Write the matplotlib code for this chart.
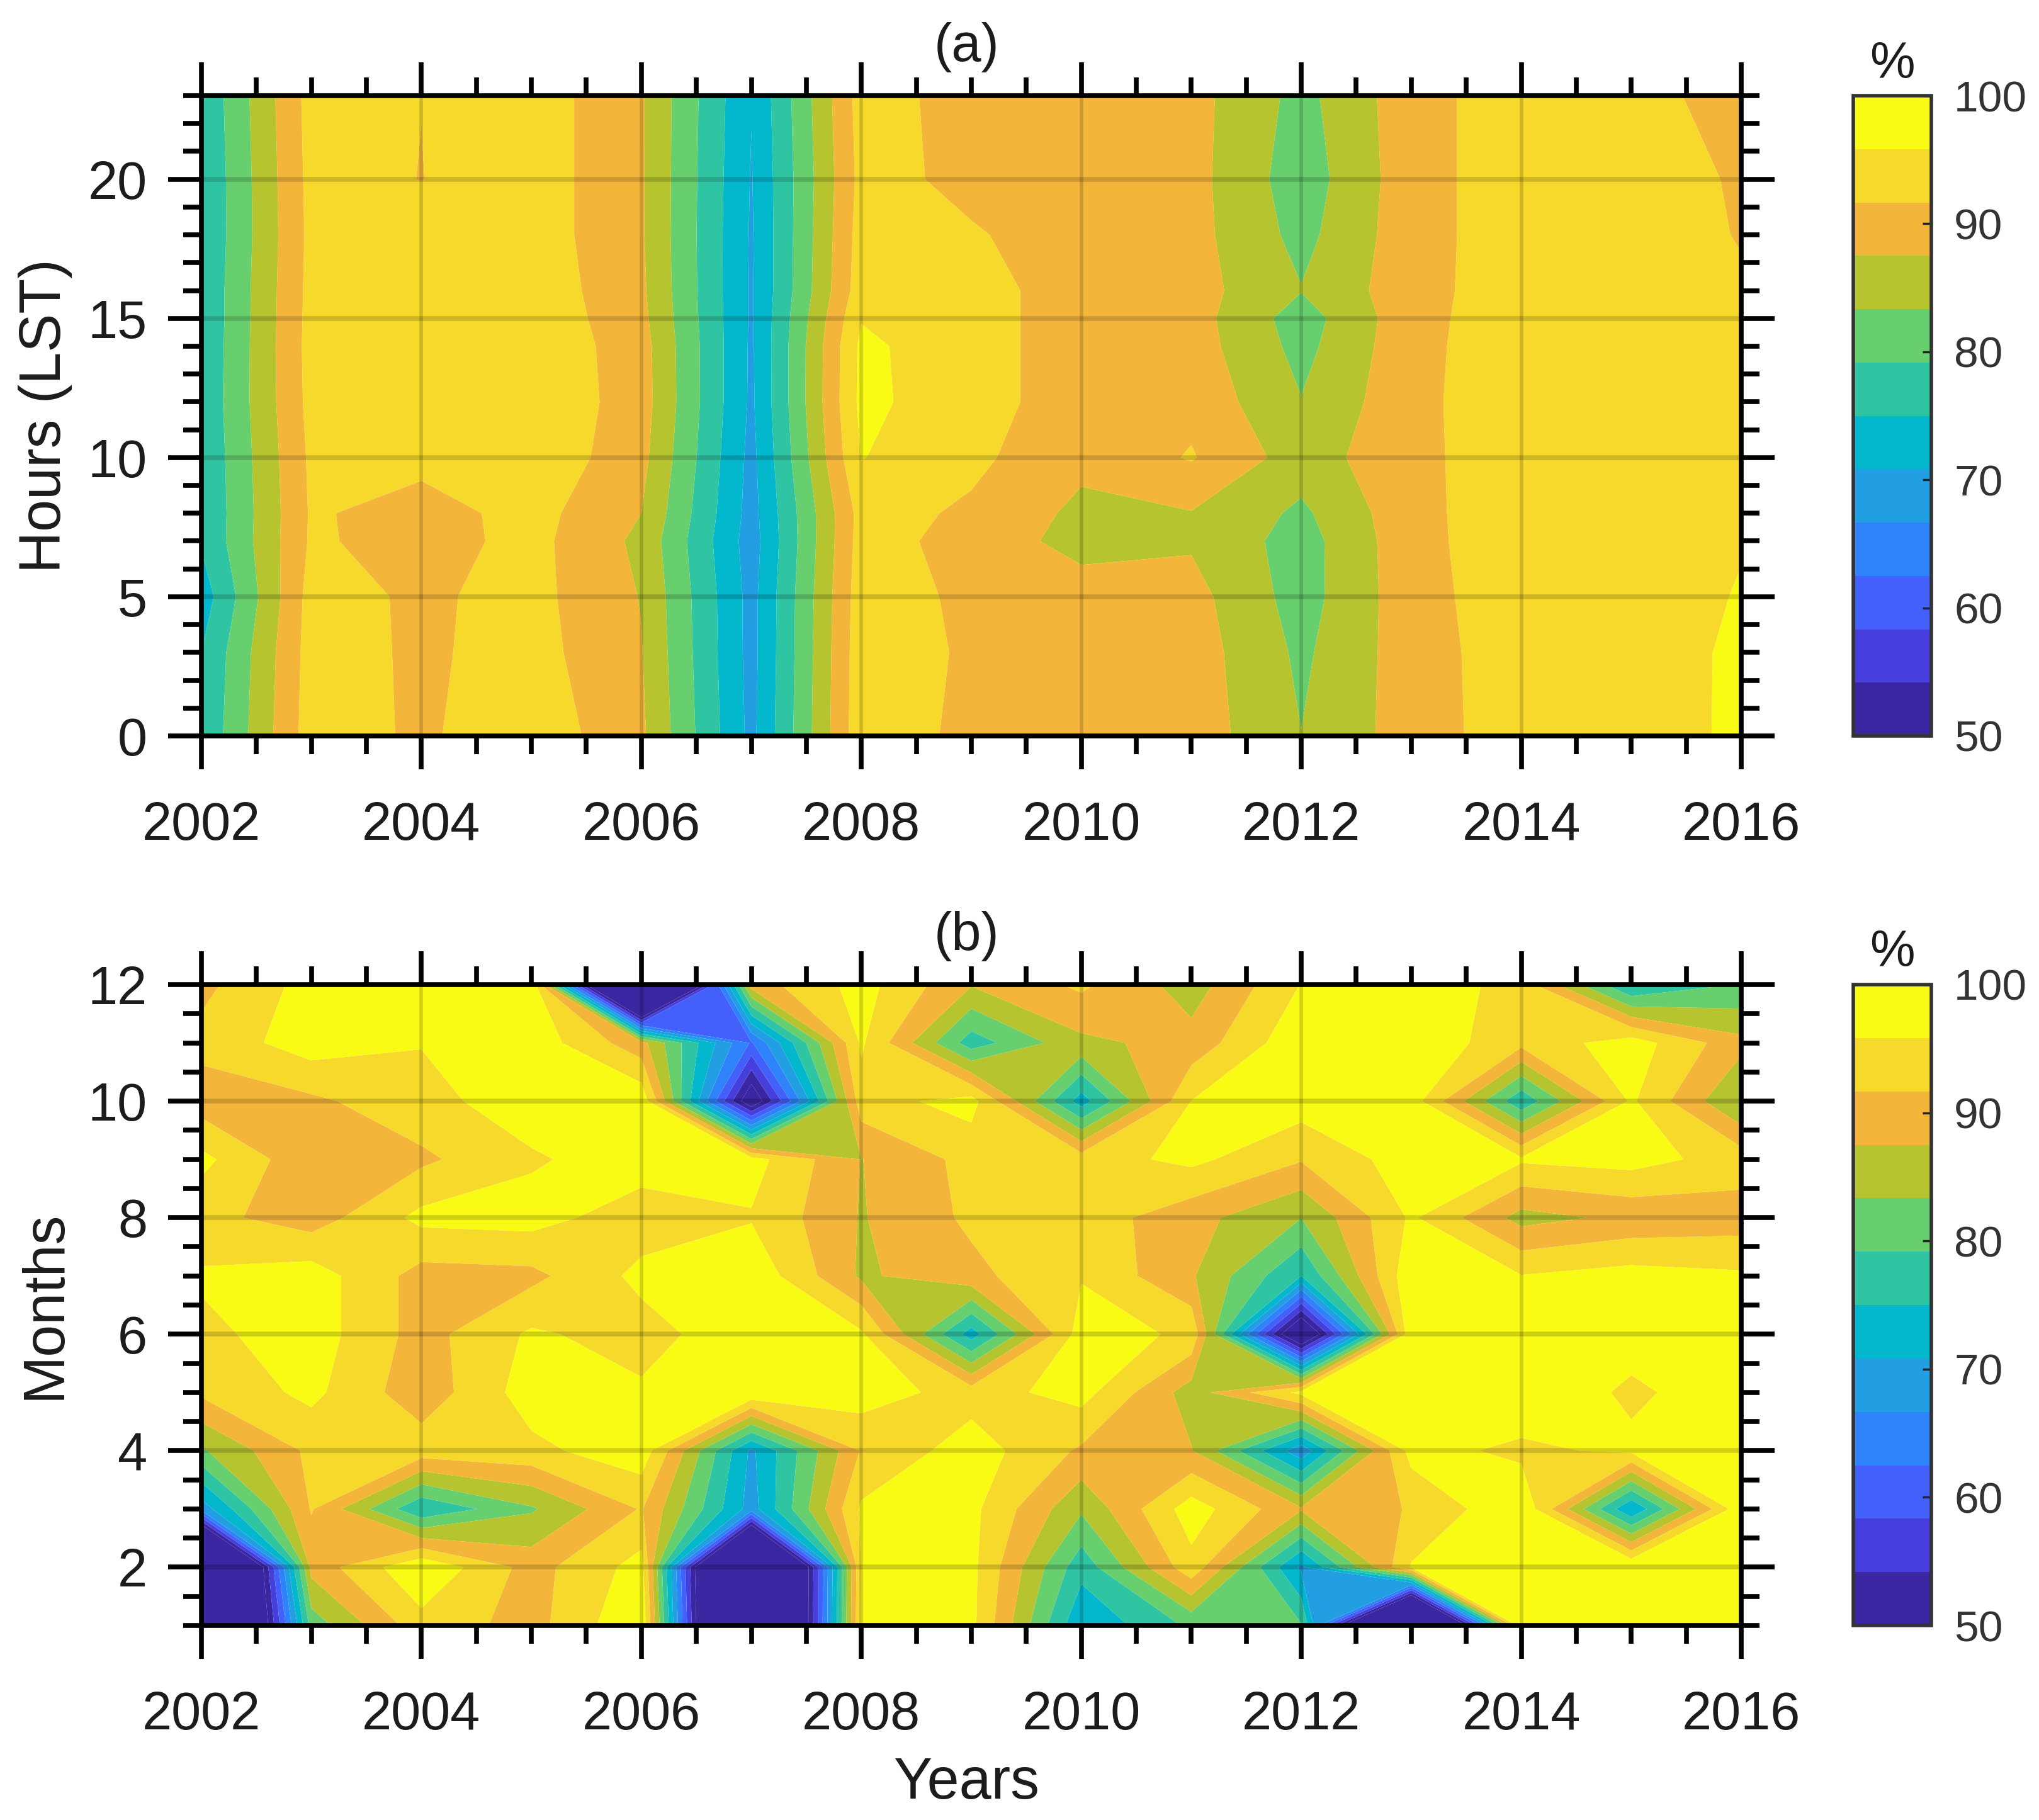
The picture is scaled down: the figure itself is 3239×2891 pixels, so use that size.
import numpy as np
import matplotlib
matplotlib.use("Agg")
import matplotlib.pyplot as plt
from matplotlib.colors import ListedColormap, BoundaryNorm
from matplotlib.cm import ScalarMappable
from matplotlib.ticker import MultipleLocator

plt.rcParams['font.family'] = ['Liberation Sans', 'DejaVu Sans']

years = list(range(2002, 2017))
band_colors = ['#3A26A0', '#463FDD', '#4460FB', '#2E82FA', '#229EE2', '#03B8CC',
               '#2FC5A3', '#67CF6E', '#B5C42F', '#F4B63A', '#F6D92B', '#F9FB15']
year_ticks = [2002, 2004, 2006, 2008, 2010, 2012, 2014, 2016]
hour_ticks = [0, 5, 10, 15, 20]
month_ticks = [2, 4, 6, 8, 10, 12]
cbar_ticks = [50, 60, 70, 80, 90, 100]

hours = [0, 3, 5, 7, 8, 10, 12, 14, 15, 16, 18, 20, 23]
h00 = [75.6, 93.8, 91.0, 94.5, 88.3, 69.7, 94.5, 90.5, 90.0, 89.8, 83.4, 89.5, 94.0, 94.3, 96.4]
h03 = [75.0, 93.5, 91.0, 93.3, 87.7, 69.4, 94.3, 91.0, 90.0, 89.6, 82.5, 89.7, 94.0, 94.5, 96.3]
h05 = [72.7, 93.3, 91.0, 93.0, 87.3, 69.4, 94.0, 90.7, 89.5, 89.0, 81.5, 90.0, 94.2, 94.5, 96.0]
h07 = [75.4, 92.3, 89.8, 93.0, 86.5, 68.8, 93.5, 90.0, 86.0, 87.0, 81.5, 90.2, 94.5, 94.7, 95.7]
h08 = [75.3, 92.2, 89.8, 93.2, 87.5, 69.2, 93.3, 91.0, 86.5, 87.3, 82.5, 90.3, 94.5, 94.8, 95.0]
h10 = [75.5, 92.5, 93.0, 95.0, 88.8, 69.6, 96.0, 92.6, 88.6, 92.0, 85.5, 90.4, 94.5, 95.0, 94.5]
h12 = [75.8, 93.0, 94.0, 95.2, 89.5, 70.1, 97.0, 93.0, 90.0, 90.5, 83.5, 90.5, 94.5, 95.0, 94.3]
h14 = [75.6, 93.2, 94.0, 95.0, 89.3, 70.2, 96.8, 93.0, 90.0, 89.5, 82.0, 90.3, 94.5, 95.0, 94.0]
h15 = [75.5, 93.1, 94.0, 94.8, 88.7, 70.3, 95.6, 93.0, 90.0, 89.3, 81.3, 90.2, 94.3, 95.0, 93.7]
h16 = [75.5, 93.0, 94.0, 94.5, 88.3, 70.3, 94.0, 93.0, 90.0, 89.2, 83.5, 90.0, 94.2, 95.0, 92.5]
h18 = [75.2, 92.8, 94.0, 94.0, 88.0, 70.4, 93.5, 92.0, 90.0, 89.0, 82.0, 90.0, 94.0, 95.0, 91.3]
h20 = [75.2, 93.0, 91.6, 94.0, 88.0, 70.6, 93.0, 90.7, 90.0, 89.0, 81.0, 90.0, 94.0, 94.5, 91.0]
h23 = [75.6, 93.3, 91.7, 94.0, 88.0, 71.0, 93.5, 90.0, 90.0, 89.0, 82.0, 90.0, 94.0, 94.0, 89.0]
hourly = [h00, h03, h05, h07, h08, h10, h12, h14, h15, h16, h18, h20, h23]

months = list(range(1, 13))
m01 = [2.0, 81.0, 94.3, 90.0, 99.8, 0.0, 96.5, 97.0, 71.3, 80.0, 79.5, 0.0, 100.0, 100.0, 100.0]
m02 = [0.0, 89.0, 99.5, 90.0, 97.5, 0.0, 96.0, 97.0, 76.5, 94.5, 70.0, 96.2, 100.0, 100.0, 100.0]
m03 = [68.5, 92.0, 75.5, 82.8, 92.0, 69.0, 96.5, 97.0, 84.0, 98.0, 88.0, 92.0, 99.5, 71.0, 99.0]
m04 = [82.8, 92.7, 94.0, 94.7, 98.5, 70.0, 92.0, 98.0, 91.0, 87.7, 68.0, 97.5, 94.8, 96.8, 99.0]
m05 = [92.5, 96.9, 89.0, 98.0, 96.5, 99.5, 98.0, 94.0, 97.5, 85.5, 97.0, 98.0, 99.5, 95.0, 98.5]
m06 = [94.8, 98.0, 90.0, 96.5, 94.0, 99.0, 96.5, 73.0, 98.0, 95.0, 40.0, 99.0, 99.0, 97.8, 99.0]
m07 = [96.4, 98.0, 90.0, 90.5, 97.0, 99.0, 86.8, 90.5, 95.5, 88.0, 75.0, 99.0, 96.0, 97.5, 96.5]
m08 = [93.0, 89.5, 97.0, 97.5, 93.5, 95.5, 87.2, 92.5, 94.0, 89.0, 83.4, 96.5, 86.0, 88.5, 89.5]
m09 = [97.0, 88.5, 90.8, 95.3, 98.0, 97.5, 87.4, 93.0, 94.0, 96.9, 92.0, 98.0, 96.5, 97.5, 94.0]
m10 = [89.5, 90.8, 94.5, 98.0, 99.0, 45.0, 94.0, 97.5, 73.0, 95.9, 98.0, 98.0, 76.0, 96.5, 83.0]
m11 = [93.0, 98.0, 96.0, 98.5, 89.0, 62.0, 96.5, 77.0, 86.5, 89.0, 99.0, 99.0, 93.0, 98.0, 88.8]
m12 = [90.5, 97.5, 98.0, 100.0, 0.0, 89.5, 97.5, 87.8, 92.5, 85.5, 96.0, 99.0, 94.0, 74.5, 79.5]
monthly = [m01, m02, m03, m04, m05, m06, m07, m08, m09, m10, m11, m12]

W, H = 3239, 2891
fig = plt.figure(figsize=(W / 100, H / 100), dpi=100, facecolor='white')


def box(l, t, r, b):
    return [l / W, 1 - b / H, (r - l) / W, (b - t) / H]


levels = np.linspace(50, 100, 13)
cmap = ListedColormap(band_colors)
cmap.set_under(band_colors[0])
cmap.set_over(band_colors[-1])
norm = BoundaryNorm(levels, cmap.N)
TXT = '#1c1c1c'


def panel(rect, y, z, yticks, yminor, ylim, ylabel, title):
    ax = fig.add_axes(rect)
    ax.contourf(years, y, np.array(z), levels=levels, cmap=cmap, norm=norm,
                extend='both', antialiased=True, zorder=1)
    ax.set_xlim(2002, 2016)
    ax.set_ylim(*ylim)
    ax.set_xticks(year_ticks)
    ax.set_yticks(yticks)
    ax.xaxis.set_minor_locator(MultipleLocator(0.5))
    ax.yaxis.set_minor_locator(MultipleLocator(yminor))
    ax.tick_params(which='major', direction='out', length=38, width=5.5,
                   top=True, right=True, labelsize=61, labelcolor=TXT)
    ax.tick_params(axis='x', which='major', pad=36)
    ax.tick_params(axis='y', which='major', pad=24)
    ax.tick_params(which='minor', direction='out', length=21, width=5.5,
                   top=True, right=True)
    ax.xaxis.grid(True, which='major', color='black', alpha=0.17, lw=4, zorder=3)
    ax.yaxis.grid(True, which='major', color='black', alpha=0.17, lw=5.5, zorder=3)
    ax.set_axisbelow(False)
    for s in ax.spines.values():
        s.set_linewidth(5.5)
        s.set_zorder(5)
    ax.set_ylabel(ylabel, fontsize=66, color=TXT)
    ax.yaxis.set_label_coords(-0.084, 0.5)
    ax.text(0.497, 1.054, title, transform=ax.transAxes, ha='center', va='baseline',
            fontsize=61, color=TXT)
    return ax


def cbar(rect, title):
    cax = fig.add_axes(rect)
    sm = ScalarMappable(norm=norm, cmap=cmap)
    cb = fig.colorbar(sm, cax=cax, ticks=cbar_ticks, spacing='proportional', extend='neither')
    cb.minorticks_off()
    cax.tick_params(direction='in', length=10, width=2.5, color='#222222', pad=26,
                    labelsize=50, labelcolor='#333333')
    cb.outline.set_linewidth(4)
    cb.outline.set_edgecolor('#333333')
    cax.text(0.5, 1.028, title, transform=cax.transAxes, ha='center', va='baseline',
             fontsize=58, color=TXT)


axa = panel(box(320, 152, 2766, 1169), hours, hourly, hour_ticks, 1, (0, 23), 'Hours (LST)', '(a)')
axb = panel(box(320, 1564, 2766, 2582), months, monthly, month_ticks, 0.5, (1, 12), 'Months', '(b)')
axb.set_xlabel('Years', fontsize=66, color=TXT, labelpad=18, x=0.497)

cbar(box(2944, 152, 3068, 1169), '%')
cbar(box(2944, 1564, 3068, 2582), '%')

fig.savefig('out.png', dpi=100, facecolor='white')
